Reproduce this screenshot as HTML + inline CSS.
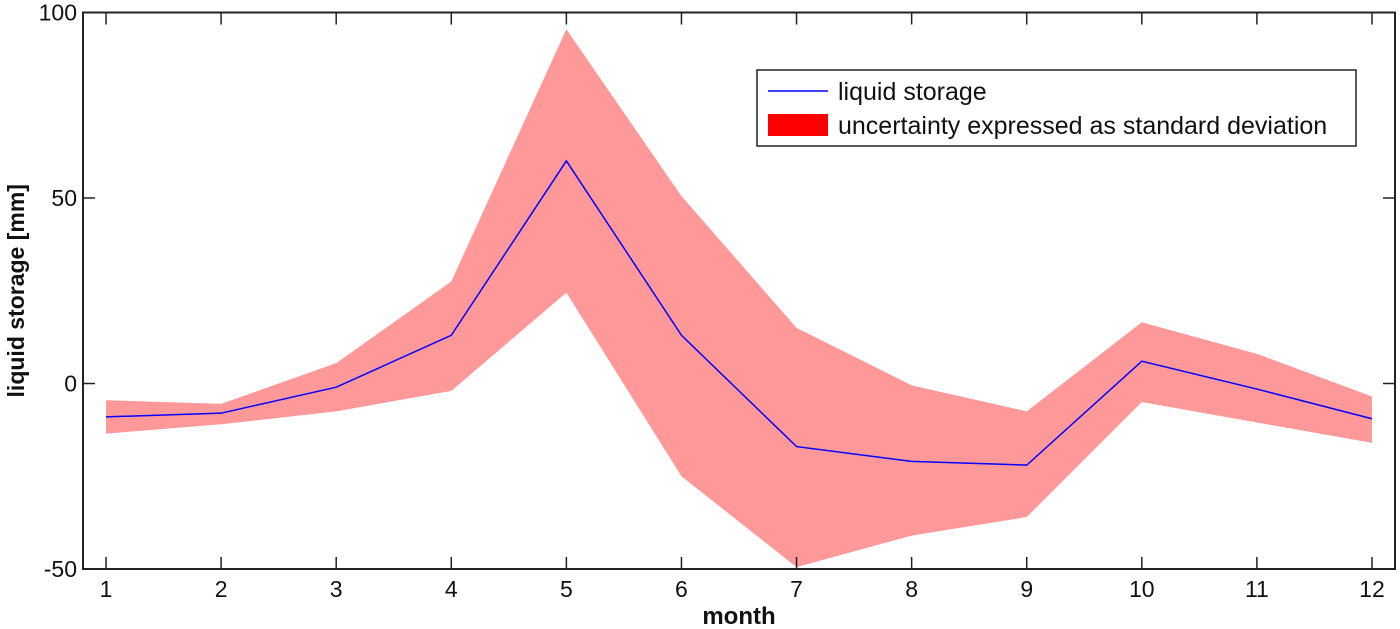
<!DOCTYPE html>
<html><head><meta charset="utf-8"><style>
body{margin:0;background:#fff}
svg{display:block;font-family:"Liberation Sans",Arial,sans-serif}
</style></head><body>
<svg width="1400" height="629">
<g id="plot"></g>
</svg>
<script>
const months=[1,2,3,4,5,6,7,8,9,10,11,12];
const meanVals=[-9,-8,-1,13,60,13,-17,-21,-22,6,-1.5,-9.5];
const upperVals=[-4.5,-5.5,5.5,27.5,95.5,50.5,15,-0.5,-7.5,16.5,8,-3.5];
const lowerVals=[-13.5,-11,-7.5,-2,24.5,-25,-49.5,-41,-36,-5,-10.5,-16];
const yTicks=[-50,0,50,100];
const L=83,R=1395,T=12.5,B=569;
const xs=m=>L+(m-0.8)/(12.2-0.8)*(R-L);
const ys=v=>B-(v+50)/150*(B-T);
const NS="http://www.w3.org/2000/svg";
const g=document.getElementById('plot');
function mk(tag,at,parent){const e=document.createElementNS(NS,tag);for(const k in at)e.setAttribute(k,at[k]);(parent||g).appendChild(e);return e;}
let pts=months.map((m,i)=>xs(m)+','+ys(upperVals[i]));
pts=pts.concat(months.slice().reverse().map((m,j)=>{const i=months.length-1-j;return xs(m)+','+ys(lowerVals[i]);}));
const band=mk('polygon',{points:pts.join(' '),fill:'#ff9999',stroke:'none'});


const line=mk('polyline',{points:months.map((m,i)=>xs(m)+','+ys(meanVals[i])).join(' '),fill:'none',stroke:'#0000ff','stroke-width':1.5});


const fr=mk('rect',{x:L,y:T,width:R-L,height:B-T,fill:'none',stroke:'#222','stroke-width':2});


months.forEach(m=>{
  const x=xs(m);
  mk('line',{x1:x,x2:x,y1:B,y2:B-12,stroke:'#222','stroke-width':1.5});
  mk('line',{x1:x,x2:x,y1:T,y2:T+12,stroke:'#222','stroke-width':1.5});
  const t=mk('text',{x:x,y:B+28,'font-size':23,'text-anchor':'middle',fill:'#111'});t.textContent=m;
  
  
});
yTicks.forEach(v=>{
  const y=ys(v);
  mk('line',{x1:L,x2:L+12,y1:y,y2:y,stroke:'#222','stroke-width':1.5});
  mk('line',{x1:R,x2:R-12,y1:y,y2:y,stroke:'#222','stroke-width':1.5});
  const t=mk('text',{x:L-6,y:y+8,'font-size':23,'text-anchor':'end',fill:'#111'});t.textContent=v;
  
  
});
const xt=mk('text',{x:(L+R)/2,y:624,'font-size':24,'font-weight':'bold','text-anchor':'middle',fill:'#111'});xt.textContent='month';


const yt=mk('text',{x:0,y:0,'font-size':23,'font-weight':'bold','text-anchor':'middle',fill:'#111',transform:'translate(24,'+((T+B)/2)+') rotate(-90)'});yt.textContent='liquid storage [mm]';


const lg=mk('g',{});


mk('rect',{x:757,y:70,width:599,height:76,fill:'#fff',stroke:'#222','stroke-width':1.5},lg);
mk('line',{x1:768,x2:828,y1:91,y2:91,stroke:'#0000ff','stroke-width':1.5},lg);
const l1=mk('text',{x:838,y:100,'font-size':25,fill:'#111'},lg);l1.textContent='liquid storage';


mk('rect',{x:768,y:114,width:60,height:22,fill:'#ff0000'},lg);
const l2=mk('text',{x:838,y:134,'font-size':25,fill:'#111'},lg);l2.textContent='uncertainty expressed as standard deviation';


</script>
</body></html>
